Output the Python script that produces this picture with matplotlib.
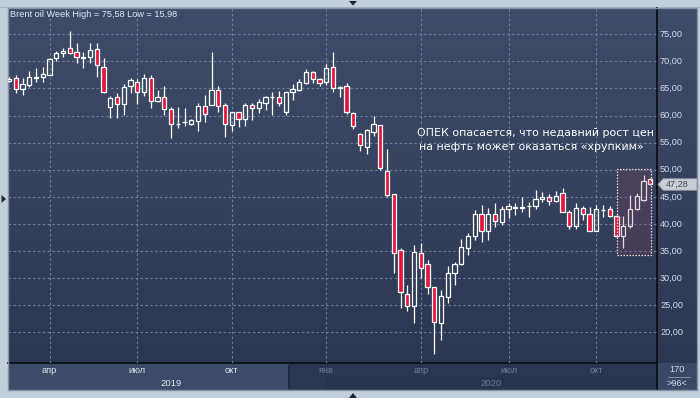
import numpy as np
import matplotlib
matplotlib.use("Agg")
import matplotlib.pyplot as plt
from matplotlib.patches import Rectangle, Polygon
from matplotlib.transforms import blended_transform_factory

plt.rcParams['font.family'] = ['Liberation Sans', 'DejaVu Sans']

# ---------------- data (weekly candles) ----------------
opens = [66.4, 66.88, 64.85, 65.64, 67.00, 67.06, 67.54, 70.57, 71.55, 72.42,
         71.68, 70.70, 70.75, 72.23, 69.02, 61.53, 63.37, 62.08, 65.40, 66.14,
         64.41, 66.88, 62.69, 63.37, 61.16, 58.40, 58.75, 58.44, 59.05, 61.77,
         61.95, 64.78, 61.90, 58.20, 60.60, 59.31, 61.90, 61.45, 62.38, 63.40,
         63.48, 60.71, 64.30, 64.72, 66.07, 68.10, 66.69, 66.25, 68.91, 65.00,
         65.46, 60.42, 56.54, 54.25, 57.02, 58.26, 49.77, 45.52, 35.19, 27.01,
         24.91, 34.58, 32.55, 28.30, 21.66, 26.57, 30.89, 32.55, 35.50, 37.83,
         41.78, 38.75, 41.78, 40.41, 42.70, 43.00, 43.00, 43.25, 43.37, 44.55,
         44.92, 44.29, 45.65, 42.26, 39.67, 42.88, 41.83, 38.75, 42.50, 42.70,
         41.52, 37.83, 39.62, 42.70, 44.42, 48.24]
highs = [67.1, 67.49, 66.88, 68.23, 68.84, 68.91, 70.60, 71.92, 72.42, 75.58,
         73.34, 71.79, 73.34, 73.34, 70.57, 63.61, 64.11, 65.83, 66.99, 66.75,
         67.67, 67.49, 64.72, 65.46, 61.64, 61.53, 61.34, 59.30, 62.38, 63.80,
         71.79, 65.46, 62.27, 60.70, 60.71, 62.27, 62.27, 63.00, 63.61, 64.30,
         64.53, 64.35, 65.83, 66.75, 68.54, 68.23, 66.99, 69.52, 71.80, 65.46,
         65.96, 60.60, 56.84, 57.52, 59.92, 58.30, 53.78, 45.60, 35.50, 28.73,
         36.11, 36.42, 33.34, 28.35, 27.81, 32.24, 33.03, 37.22, 38.38, 42.57,
         43.49, 42.88, 43.81, 43.31, 43.81, 43.81, 44.92, 43.99, 46.26, 45.89,
         45.52, 46.08, 46.58, 42.57, 43.92, 43.31, 43.07, 43.49, 43.49, 43.31,
         41.60, 41.46, 45.34, 45.65, 49.03, 48.40]
lows = [66.2, 64.22, 63.80, 65.33, 66.14, 66.25, 67.40, 70.13, 70.75, 71.30,
        69.65, 68.72, 69.65, 67.06, 64.22, 59.50, 59.50, 60.11, 64.11, 62.08,
        63.67, 61.34, 62.50, 60.11, 55.80, 57.65, 58.08, 58.20, 57.21, 58.87,
        61.90, 60.71, 56.10, 57.20, 57.95, 58.08, 59.18, 60.53, 61.03, 60.11,
        61.77, 60.11, 62.87, 64.60, 65.77, 65.96, 65.46, 65.64, 64.41, 63.48,
        60.23, 57.52, 53.52, 52.90, 56.23, 49.95, 45.03, 31.00, 24.43, 23.98,
        21.66, 29.96, 27.07, 15.98, 18.58, 25.46, 28.73, 32.50, 34.27, 37.04,
        36.75, 37.04, 39.38, 39.80, 41.04, 41.65, 42.26, 41.34, 42.76, 44.10,
        43.49, 43.99, 42.20, 39.06, 39.06, 40.72, 38.70, 38.70, 41.34, 41.34,
        37.50, 35.61, 39.30, 42.60, 44.29, 47.20]
closes = [66.8, 64.85, 65.77, 67.06, 67.10, 67.62, 70.44, 71.49, 71.97, 71.49,
          70.75, 70.80, 72.10, 69.33, 64.41, 63.19, 62.08, 65.22, 66.57, 64.30,
          66.88, 62.69, 63.37, 61.16, 58.39, 58.50, 58.85, 59.18, 61.77, 60.23,
          64.72, 61.77, 58.39, 60.60, 59.31, 61.95, 61.45, 62.50, 63.37, 63.50,
          62.38, 64.30, 64.85, 66.14, 67.99, 66.69, 65.96, 68.72, 65.03, 65.20,
          60.60, 58.13, 54.57, 57.34, 58.44, 50.38, 45.34, 34.58, 27.38, 24.91,
          34.87, 31.81, 28.30, 21.84, 26.70, 30.89, 32.55, 35.69, 37.83, 41.78,
          38.75, 41.78, 40.60, 42.70, 43.31, 43.10, 43.20, 43.35, 44.55, 44.92,
          44.29, 45.16, 42.26, 39.67, 42.88, 41.78, 38.75, 42.70, 42.60, 41.52,
          37.83, 39.62, 42.70, 45.16, 47.98, 47.28]

month_idx = [6, 19, 33, 47, 61, 74, 87]
month_labels = ['апр', 'июл', 'окт', 'янв', 'апр', 'июл', 'окт']
year_labels = ['2019', '2020']
price_ticks = [20, 25, 30, 35, 40, 45, 50, 55, 60, 65, 70, 75]
title = 'Brent oil Week High = 75,58 Low = 15,98'
note_lines = ['ОПЕК опасается, что недавний рост цен',
              'на нефть может оказаться «хрупким»']
highlight = (90, 95.1, 34.3, 50.2)   # x0, x1, y0, y1 of the marked area

# ---------------- layout ----------------
W, H = 700, 398
fig = plt.figure(figsize=(W / 100, H / 100), dpi=100)
fig.patch.set_facecolor('#c4cfdc')

def frac(x0, y0, x1, y1):
    return [x0 / W, 1 - y1 / H, (x1 - x0) / W, (y1 - y0) / H]

PL, PT, PR, PB = 8, 8, 657, 363      # main plot box in pixels
RR = 697                             # right edge of price panel
BB = 390                             # bottom of date panel

bg = fig.add_axes([0, 0, 1, 1], zorder=0)
bg.set_xlim(0, W); bg.set_ylim(H, 0); bg.axis('off')

# gradient behind plot and price panel
grad = np.linspace(0, 1, 256).reshape(-1, 1)
top = np.array([0x3f, 0x4c, 0x69]) / 255
bot = np.array([0x2c, 0x37, 0x52]) / 255
img = top + (bot - top) * grad[..., None]
img = img.reshape(256, 1, 3)
bg.imshow(img, extent=[PL, RR, PB, PT], aspect='auto', zorder=1, interpolation='bilinear')

# date panel
bg.add_patch(Rectangle((PL, PB), 289 - PL, BB - PB, facecolor='#3d4b68', edgecolor='none', zorder=1))
bg.add_patch(Rectangle((289, PB), PR - 289, BB - PB, facecolor='#2b3652', edgecolor='none', zorder=1))
bg.add_patch(Rectangle((326, 377), PR - 326, BB - 377, facecolor='#29334e', edgecolor='none', zorder=1))
bg.plot([289, 289], [366, 388], color='#1e2538', lw=1.2, zorder=2)
# count box
bg.add_patch(Rectangle((PR, PB), RR - PR, BB - PB, facecolor='#3a4865', edgecolor='none', zorder=1))
bg.plot([668, 690], [377, 377], color='#8c9ab0', lw=0.6, zorder=2)
# separators
bg.plot([PL, PR], [PB, PB], color='#0b0f17', lw=1.3, zorder=3)
bg.plot([PR, PR], [PT, BB], color='#0b0f17', lw=1.3, zorder=3)
# outer frame
bg.add_patch(Rectangle((PL - 0.5, PT - 0.5), RR - PL + 0.5, BB - PT + 0.5, facecolor='none',
                       edgecolor='#8592a6', lw=1.0, zorder=4))
bg.plot([0, W], [6.8, 6.8], color='#a9b5c4', lw=0.8, zorder=2)
# little triangles on the frame
bg.add_patch(Polygon([[349, 1], [357, 1], [353, 5.5]], closed=True, facecolor='#1c2333', edgecolor='none', zorder=5))
bg.add_patch(Polygon([[349, 398], [357, 398], [353, 393]], closed=True, facecolor='#1c2333', edgecolor='none', zorder=5))
bg.add_patch(Polygon([[1.5, 195], [1.5, 203], [6, 199]], closed=True, facecolor='#1c2333', edgecolor='none', zorder=5))

# ---------------- main chart ----------------
ax = fig.add_axes(frac(PL, PT, PR, PB), zorder=1)
ax.set_facecolor('none')
for s in ax.spines.values():
    s.set_visible(False)
n = len(opens)
x = np.arange(n)
ax.set_xlim(-0.15, 96.0)
ax.set_ylim(14.33, 79.85)
ax.set_yticks(price_ticks)
ax.set_xticks(month_idx)
ax.tick_params(length=0, labelleft=False, labelbottom=False)
ax.grid(True, color='#6d7f9e', lw=0.8, linestyle=(0, (2.2, 2.2)))
ax.set_axisbelow(True)

RED = '#e3173d'
bw = 0.66
for i in range(n):
    o, h, l, c = opens[i], highs[i], lows[i], closes[i]
    lo_b, hi_b = min(o, c), max(o, c)
    ax.plot([x[i], x[i]], [hi_b, h], color='white', lw=0.9, zorder=3, solid_capstyle='butt')
    ax.plot([x[i], x[i]], [l, lo_b], color='white', lw=0.9, zorder=3, solid_capstyle='butt')
    hb = max(hi_b - lo_b, 0.05)
    ax.add_patch(Rectangle((x[i] - bw / 2, lo_b), bw, hb,
                           facecolor=RED if c < o else 'none',
                           edgecolor='white', lw=0.9, zorder=4))

x0, x1, y0, y1 = highlight
ax.add_patch(Rectangle((x0, y0), x1 - x0, y1 - y0, facecolor=(0.58, 0.24, 0.34, 0.2),
                       edgecolor='#e9dcdc', lw=0.9, linestyle=(0, (1.2, 1.2)), zorder=5))

# ---------------- texts ----------------
ov = fig.add_axes([0, 0, 1, 1], zorder=3)
ov.set_xlim(0, W); ov.set_ylim(H, 0); ov.axis('off'); ov.patch.set_visible(False)

ov.text(10, 14.5, title, fontsize=6.6, color='#e4eaf3', va='center', ha='left')
ov.text(417, 128.5, note_lines[0], fontsize=7.9, color='white', va='top', ha='left',
        family=['DejaVu Sans'])
ov.text(419, 142.5, note_lines[1], fontsize=7.9, color='white', va='top', ha='left',
        family=['DejaVu Sans'])

# price labels
ytr = blended_transform_factory(ov.transData, ax.transData)
for v in price_ticks:
    ov.text(660, v, f'{v},00', transform=ytr, fontsize=6.6, color='#d3dcea', va='center', ha='left')

# last price tag
last = closes[-1]
ty = 34.3 + (75 - last) * 5.418
tag = Polygon([[658, ty], [663, ty - 5.8], [697, ty - 5.8], [697, ty + 5.8], [663, ty + 5.8]],
              closed=True, facecolor='#c9cdd4', edgecolor='#8c939e', lw=0.6, zorder=6)
ov.add_patch(tag)
ov.text(666, ty, f'{last:.2f}'.replace('.', ','), fontsize=6.6, color='#3e4656', va='center', ha='left', zorder=7)

# date labels
xtr = blended_transform_factory(ax.transData, ov.transData)
for k, (mi, ml) in enumerate(zip(month_idx, month_labels)):
    col = '#e2e8f1' if k < 3 else '#6f7c97'
    ov.text(mi, 370.5, ml, transform=xtr, fontsize=6.6, color=col, ha='center', va='center')
ov.text(171, 383, year_labels[0], fontsize=6.8, color='#e2e8f1', ha='center', va='center')
ov.text(491.5, 383, year_labels[1], fontsize=6.8, color='#6f7c97', ha='center', va='center')
ov.text(677, 370, '170', fontsize=6.6, color='#d3dcea', ha='center', va='center')
ov.text(677, 383, f'>{n}<', fontsize=6.6, color='#d3dcea', ha='center', va='center')

fig.savefig('out.png', dpi=100, facecolor=fig.get_facecolor())
